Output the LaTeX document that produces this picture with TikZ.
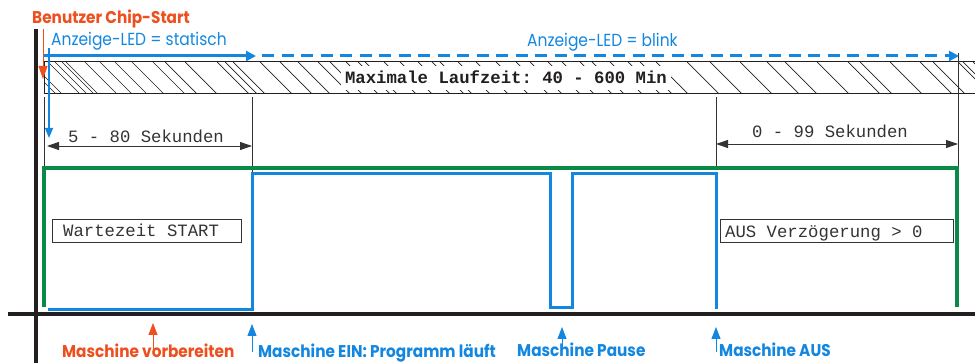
\documentclass[tikz,border=0pt]{standalone}
\usepackage{fontspec}
\setmonofont{Liberation Mono}
\newfontfamily\geo[FakeStretch=0.885]{Poppins}
\newfontfamily\geob[FakeStretch=0.9]{Poppins}
\usetikzlibrary{arrows.meta}
\definecolor{cred}{HTML}{EE4F1F}
\definecolor{cblue}{HTML}{1387E0}
\definecolor{cgreen}{HTML}{0A8A46}
\definecolor{cblack}{HTML}{231F20}
\definecolor{cgrey}{HTML}{333333}
\begin{document}
\begin{tikzpicture}[x=1pt,y=-1pt,
  lab/.style={font=\geo\fontsize{17.5}{17.5}\selectfont, anchor=base west, inner sep=0pt},
  blab/.style={font=\geob\bfseries\fontsize{17}{17}\selectfont, anchor=base west, inner sep=0pt},
  mono/.style={font=\ttfamily\fontsize{17.3}{17.3}\selectfont, text=cgrey, inner sep=0pt},
  outbox/.style={draw=cgrey, line width=1pt, inner sep=0pt},
  axis/.style={cblack, line width=4.5pt},
  ext/.style={cgrey, line width=0.9pt},
  dim/.style={cgrey, line width=0.9pt, {Triangle[length=12pt,width=8pt]}-{Triangle[length=12pt,width=8pt]}},
  hatch/.style={cblack, line width=0.7pt},
  smallup/.style={line width=1pt, -{Triangle[length=12pt,width=9pt]}},
]
\useasboundingbox (0,0) rectangle (975,363);

% axes
\coordinate (vtop) at (36,29);
\coordinate (vbot) at (36,363);
\coordinate (hl) at (8,314);
\coordinate (hr) at (975,314);
\draw[axis] (vtop) -- (vbot);
\draw[axis] (hl) -- (hr);

% hatched bar
\begin{scope}
  \clip (44,62) rectangle (975,94);
  \foreach \x in {12,24,30,48,55,62,66,85,100,115,132,153,165,185,217,225,233,260,280,298,318,330,346,358,365,384,400,418,432,440,458,476,496,516,530,548,562,580,592,610,628,640,656,687,710,740,767,785,817,848,860,890,920,933,958,963,973}
    \draw[hatch] (\x,62) -- (\x+32,94);
\end{scope}
\coordinate (bt1) at (975,62);
\coordinate (bt2) at (44,62);
\coordinate (bb1) at (44,94);
\coordinate (bb2) at (975,94);
\draw[cblack, line width=1pt] (bt1) -- (bt2) -- (bb1) -- (bb2);
\node[fill=white, minimum width=330pt, minimum height=24pt, inner sep=0pt] (maxbg) at (506,78) {};
\node[mono, text=cblack, font=\ttfamily\bfseries\fontsize{17.3}{17.3}\selectfont, anchor=base] (maxt) at (506,84) {Maximale Laufzeit: 40 - 600 Min};

% LED arrows
\coordinate (ledS) at (44,56);
\coordinate (ledM) at (256,56);
\coordinate (ledD) at (262,56);
\coordinate (ledE) at (959,56);
\draw[cblue, line width=3pt, -{Triangle[length=10pt,width=10pt]}] (ledS) -- (ledM);
\draw[cblue, line width=3pt, dash pattern=on 12pt off 7.5pt, -{Triangle[length=10pt,width=10pt]}] (ledD) -- (ledE);
\node[lab, text=cblue] (ledst) at (51,46) {Anzeige-LED = statisch};
\node[lab, text=cblue] (ledbl) at (527,47) {Anzeige-LED = blink};
\node[blab, text=cred] (chip) at (32,24) {Benutzer Chip-Start};

% start arrows
\coordinate (oa1) at (43,29);
\coordinate (oa2) at (43,79);
\draw[cred, line width=1pt, -{Triangle[length=13pt,width=9pt]}] (oa1) -- (oa2);
\coordinate (ba1) at (49,48);
\coordinate (ba2) at (49,138);
\draw[cblue, line width=1.2pt, -{Triangle[length=10pt,width=8pt]}] (ba1) -- (ba2);

% extension lines
\coordinate (e1a) at (44,97);  \coordinate (e1b) at (44,167);
\coordinate (e2a) at (252,97); \coordinate (e2b) at (252,305);
\coordinate (e3a) at (716,97); \coordinate (e3b) at (716,167);
\coordinate (e4a) at (958,53); \coordinate (e4b) at (958,167);
\draw[ext] (e1a) -- (e1b);
\draw[ext] (e2a) -- (e2b);
\draw[ext] (e3a) -- (e3b);
\draw[ext] (e4a) -- (e4b);

% dimensions
\coordinate (d1a) at (47,146);  \coordinate (d1b) at (252,146);
\coordinate (d2a) at (716,144); \coordinate (d2b) at (958,144);
\draw[dim] (d1a) -- (d1b);
\draw[dim] (d2a) -- (d2b);
\node[mono, anchor=base] (d1t) at (146,143) {5 - 80 Sekunden};
\node[mono, anchor=base] (d2t) at (830,138) {0 - 99 Sekunden};

% green envelope
\coordinate (g1) at (44,307);
\coordinate (g2) at (44,168);
\coordinate (g3) at (957,168);
\coordinate (g4) at (957,307);
\draw[cgreen, line width=3.5pt] (g1) -- (g2) -- (g3) -- (g4);

% blue machine signal
\coordinate (s1) at (48,310);
\coordinate (s2) at (252,310);
\coordinate (s3) at (252,174);
\coordinate (s4) at (550,174);
\coordinate (s5) at (550,308);
\coordinate (s6) at (572,308);
\coordinate (s7) at (572,174);
\coordinate (s8) at (716,174);
\coordinate (s9) at (716,309);
\draw[cblue, line width=3pt] (s1) -- (s2) -- (s3) -- (s4) -- (s5) -- (s6) -- (s7) -- (s8) -- (s9);

% boxes
\node[outbox, minimum width=189pt, minimum height=23pt] (wbox) at (146.5,231.5) {};
\node[mono, anchor=base west] (wtxt) at (63,237) {Wartezeit START};
\node[outbox, minimum width=233pt, minimum height=23pt] (abox) at (836.5,231.5) {};
\node[mono, anchor=base west] (atxt) at (725,237.5) {AUS Verzögerung > 0};

% bottom labels
\node[blab, text=cred] (mv) at (62,358) {Maschine vorbereiten};
\node[blab, text=cblue] (me) at (258,358) {Maschine EIN: Programm läuft};
\node[blab, text=cblue] (mp) at (517,357) {Maschine Pause};
\node[blab, text=cblue] (ma) at (719,357) {Maschine AUS};
\coordinate (u1a) at (153,349); \coordinate (u1b) at (153,323);
\coordinate (u2a) at (252,352); \coordinate (u2b) at (252,324);
\coordinate (u3a) at (562,347); \coordinate (u3b) at (562,327);
\coordinate (u4a) at (716,352); \coordinate (u4b) at (716,327);
\draw[smallup, cred] (u1a) -- (u1b);
\draw[smallup, cblue] (u2a) -- (u2b);
\draw[smallup, cblue] (u3a) -- (u3b);
\draw[smallup, cblue] (u4a) -- (u4b);
\end{tikzpicture}
\end{document}
